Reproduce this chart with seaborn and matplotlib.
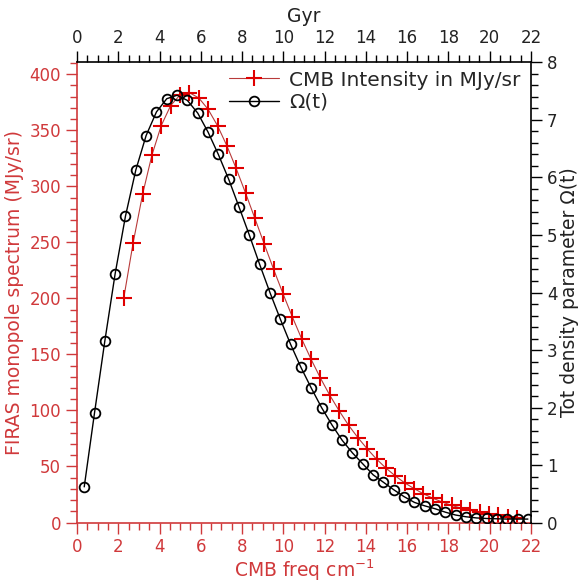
import numpy as np
import pandas as pd
import matplotlib
matplotlib.use("Agg")
import matplotlib.pyplot as plt
from matplotlib.ticker import MultipleLocator
import seaborn as sns

# CMB (FIRAS) monopole spectrum
freq_cm = [2.27, 2.72, 3.18, 3.63, 4.08, 4.54, 4.99, 5.45, 5.90, 6.35, 6.81,
           7.26, 7.71, 8.17, 8.62, 9.08, 9.53, 9.98, 10.44, 10.89, 11.34,
           11.80, 12.25, 12.71, 13.16, 13.61, 14.07, 14.52, 14.97, 15.43,
           15.88, 16.34, 16.79, 17.24, 17.70, 18.15, 18.61, 19.06, 19.51,
           19.97, 20.42, 20.87, 21.33]
intensity = [200.7, 249.5, 293.0, 327.8, 354.1, 372.1, 381.5, 383.5, 378.9,
             368.8, 354.1, 336.3, 316.1, 293.9, 271.4, 248.2, 225.9, 204.3,
             183.3, 163.8, 145.8, 128.8, 113.6, 99.5, 86.8, 75.8, 65.6, 56.5,
             48.6, 41.5, 35.4, 30.2, 25.6, 21.7, 18.3, 15.3, 12.9, 10.8, 9.1,
             7.6, 6.3, 5.3, 4.3]

# Total density parameter vs time
gyr = [0.35, 0.85, 1.35, 1.85, 2.35, 2.85, 3.35, 3.85, 4.35, 4.85, 5.35,
       5.85, 6.35, 6.85, 7.35, 7.85, 8.35, 8.85, 9.35, 9.85, 10.35, 10.85,
       11.35, 11.85, 12.35, 12.85, 13.35, 13.85, 14.35, 14.85, 15.35, 15.85,
       16.35, 16.85, 17.35, 17.85, 18.35, 18.85, 19.35, 19.85, 20.35, 20.85,
       21.35, 21.85]
omega = [0.62, 1.91, 3.16, 4.33, 5.33, 6.13, 6.73, 7.14, 7.37, 7.43, 7.34,
         7.12, 6.79, 6.40, 5.97, 5.49, 5.00, 4.49, 4.00, 3.54, 3.10, 2.70,
         2.34, 2.00, 1.70, 1.43, 1.21, 1.02, 0.83, 0.70, 0.57, 0.45, 0.35,
         0.29, 0.24, 0.18, 0.13, 0.10, 0.08, 0.07, 0.065, 0.06, 0.06, 0.06]

sns.set_style("white")
plt.rcParams['font.family'] = ['DejaVu Sans']

RED_AX = "#d0393b"
RED_MK = "#e00000"
RED_LN = "#b83a3a"

fig = plt.figure(figsize=(5.86, 5.85), dpi=100)
pos = [0.1314, 0.1068, 0.7747, 0.7864]
ax = fig.add_axes(pos)
ax2 = fig.add_axes(pos, facecolor="none")

df1 = pd.DataFrame({"freq": freq_cm, "I": intensity})
df2 = pd.DataFrame({"t": gyr, "om": omega})

sns.lineplot(data=df1, x="freq", y="I", ax=ax, color=RED_LN, lw=0.8,
             marker="+", markersize=12, markeredgewidth=1.5,
             markeredgecolor=RED_MK, label="CMB Intensity in MJy/sr",
             legend=False)
sns.lineplot(data=df2, x="t", y="om", ax=ax2, color="black", lw=1.0,
             marker="o", markersize=7, markerfacecolor="none",
             markeredgecolor="black", markeredgewidth=1.3, label="Ω(t)",
             legend=False)

# bottom/left axis
ax.set_xlim(0, 22)
ax.set_ylim(0, 410.5)
ax.xaxis.set_major_locator(MultipleLocator(2))
ax.xaxis.set_minor_locator(MultipleLocator(0.5))
ax.yaxis.set_major_locator(MultipleLocator(50))
ax.yaxis.set_minor_locator(MultipleLocator(10))
ax.tick_params(axis="both", which="major", direction="out", length=8,
               width=1, color=RED_AX, labelcolor=RED_AX, labelsize=12,
               bottom=True, left=True)
ax.tick_params(axis="both", which="minor", direction="out", length=5,
               width=1, color=RED_AX, bottom=True, left=True)
for s in ["top", "right"]:
    ax.spines[s].set_visible(False)
for s in ["left", "bottom"]:
    ax.spines[s].set_color(RED_AX)
    ax.spines[s].set_linewidth(1.2)
ax.set_xlabel("CMB freq cm$^{-1}$", color=RED_AX, fontsize=13.5, labelpad=1)
ax.set_ylabel("FIRAS monopole spectrum (MJy/sr)", color=RED_AX,
              fontsize=13.5, labelpad=4)

# top/right axis
ax2.set_xlim(0, 22)
ax2.set_ylim(0, 8)
ax2.xaxis.tick_top()
ax2.yaxis.tick_right()
ax2.xaxis.set_label_position("top")
ax2.yaxis.set_label_position("right")
ax2.xaxis.set_major_locator(MultipleLocator(2))
ax2.xaxis.set_minor_locator(MultipleLocator(0.5))
ax2.yaxis.set_major_locator(MultipleLocator(1))
ax2.yaxis.set_minor_locator(MultipleLocator(0.2))
ax2.tick_params(axis="both", which="major", direction="out", length=8,
                width=1, color="black", labelcolor="#222222", labelsize=12,
                top=True, right=True, bottom=False, left=False)
ax2.tick_params(axis="both", which="minor", direction="out", length=5,
                width=1, color="black", top=True, right=True,
                bottom=False, left=False)
for s in ["left", "bottom"]:
    ax2.spines[s].set_visible(False)
for s in ["top", "right"]:
    ax2.spines[s].set_color("black")
    ax2.spines[s].set_linewidth(1.2)
ax2.set_xlabel("Gyr", color="#222222", fontsize=13.5, labelpad=5)
ax2.set_ylabel("Tot density parameter Ω(t)", color="#222222",
               fontsize=13.5, labelpad=2)

h1, l1 = ax.get_legend_handles_labels()
h2, l2 = ax2.get_legend_handles_labels()
ax2.legend(h1 + h2, l1 + l2, loc="upper right", frameon=False, fontsize=14.5,
           borderaxespad=0.0, handlelength=2.5, labelspacing=0.15,
           handletextpad=0.5, bbox_to_anchor=(0.995, 1.0))

fig.savefig("out.png", dpi=100)
